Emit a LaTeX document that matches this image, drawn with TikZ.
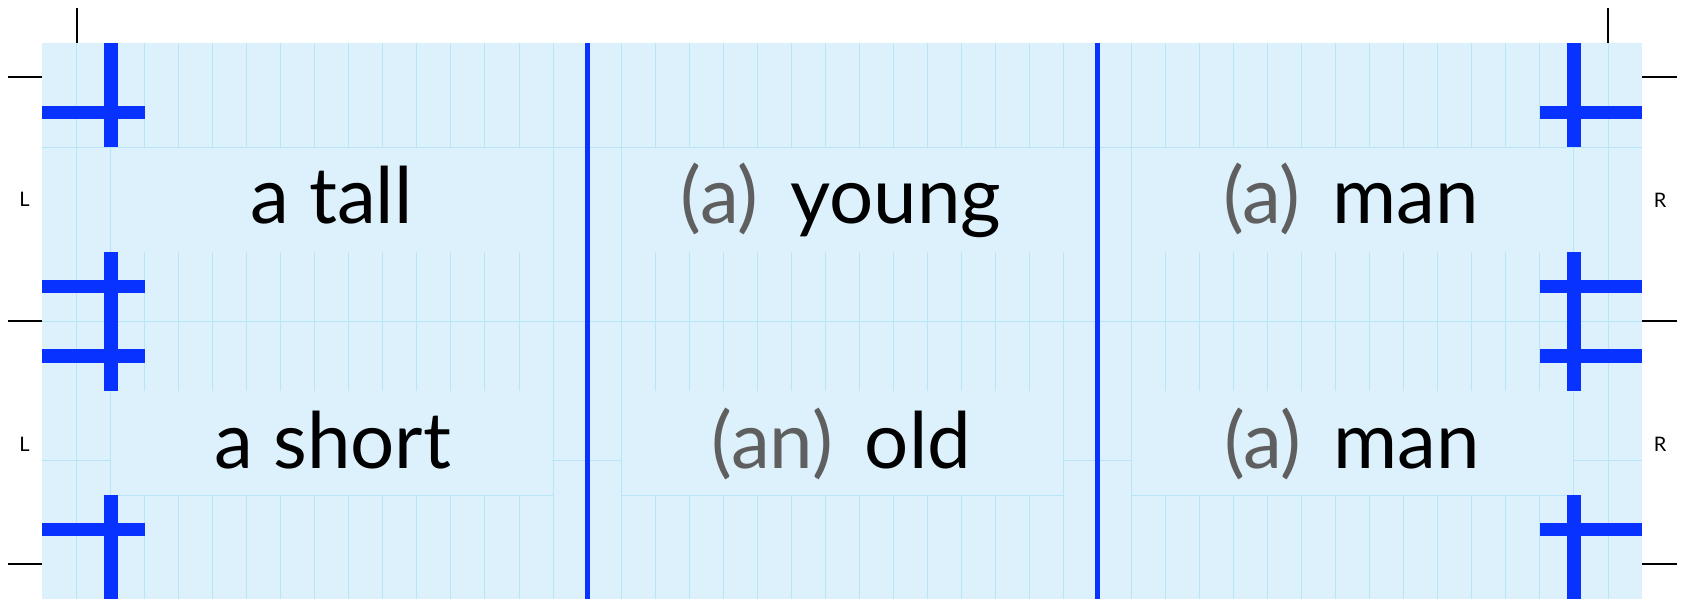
\documentclass[tikz,border=0pt]{standalone}
\usepackage{fontspec}
\setmainfont{Lato}
\definecolor{bgc}{RGB}{220,241,252}
\definecolor{gridc}{RGB}{184,229,248}
\definecolor{blu}{RGB}{8,50,255}
\definecolor{paren}{RGB}{95,95,95}
\begin{document}
\begin{tikzpicture}[x=1pt,y=-1pt,
  wordtxt/.style={font=\fontsize{78}{90}\selectfont, inner sep=0pt, anchor=base},
  sidelbl/.style={font=\fontsize{20}{24}\selectfont, inner sep=0pt},
  blacktick/.style={line width=2.3pt, black},
  gridln/.style={gridc, line width=1pt},
  bluebar/.style={fill=blu, draw=none},
  coldiv/.style={blu, line width=5pt},
  cellbox/.style={fill=bgc, draw=none}]
\useasboundingbox (0,0) rectangle (1686,599);
% background and grid
\fill[bgc] (42,43.3) rectangle (1642,599);
\foreach \k in {1,...,46} \draw[gridln] ({42.6+34.03*\k},43.3) -- ({42.6+34.03*\k},599);
\foreach \y in {147.3,321,460.3} \draw[gridln] (42,\y) -- (1642,\y);
% cells row 1
\fill[cellbox] (111.3,147.9) rectangle (552.4,251.7);
\fill[cellbox] (621.7,147.9) rectangle (1096,251.7);
\fill[cellbox] (1132.2,147.9) rectangle (1573.4,251.7);
% cells row 2
\fill[cellbox] (111.3,390.7) rectangle (552.4,494.8);
\fill[cellbox] (621.7,390.7) rectangle (1063,494.8);
\fill[cellbox] (1132.2,390.7) rectangle (1573.4,494.8);
\draw[gridln] (110.7,495.3) -- (553,495.3);
\draw[gridln] (621.1,495.3) -- (1063.6,495.3);
\draw[gridln] (1131.6,495.3) -- (1574,495.3);
% column dividers
\draw[coldiv] (587,43.3) -- (587,599);
\draw[coldiv] (1097.5,43.3) -- (1097.5,599);
% left crosses
\fill[bluebar] (103.8,43.3) rectangle (117.5,147.3);
\fill[bluebar] (42,106) rectangle (144.7,119.3);
\fill[bluebar] (103.8,251.7) rectangle (117.5,390.7);
\fill[bluebar] (42,280) rectangle (144.7,293.3);
\fill[bluebar] (42,349.3) rectangle (144.7,362.7);
\fill[bluebar] (103.8,495.3) rectangle (117.5,599);
\fill[bluebar] (42,523) rectangle (144.7,536.3);
% right crosses
\fill[bluebar] (1567.2,43.3) rectangle (1580.9,147.3);
\fill[bluebar] (1540,106) rectangle (1642,119.3);
\fill[bluebar] (1567.2,251.7) rectangle (1580.9,390.7);
\fill[bluebar] (1540,280) rectangle (1642,293.3);
\fill[bluebar] (1540,349.3) rectangle (1642,362.7);
\fill[bluebar] (1567.2,495.3) rectangle (1580.9,599);
\fill[bluebar] (1540,523) rectangle (1642,536.3);
% ticks
\draw[blacktick] (76.7,8.3) -- (76.7,43.3);
\draw[blacktick] (1608,8.3) -- (1608,43.3);
\foreach \y in {77,321,564} {
  \draw[blacktick] (7.7,\y) -- (42,\y);
  \draw[blacktick] (1642,\y) -- (1677,\y);
}
% side labels
\node[sidelbl] (l1) at (24.5,199) {L};
\node[sidelbl] (l2) at (24.5,444) {L};
\node[sidelbl] (r1) at (1660,200) {R};
\node[sidelbl] (r2) at (1660,444) {R};
% words
\node[wordtxt] (w11) at (331.5,223.3) {a tall};
\node[wordtxt] (w12) at (841,223.3) {{\color{paren}(a)}\hspace{32pt}young};
\node[wordtxt] (w13) at (1351,223.3) {{\color{paren}(a)}\hspace{32pt}man};
\node[wordtxt] (w21) at (332.8,468.3) {a short};
\node[wordtxt] (w22) at (841.4,468.3) {{\color{paren}(an)}\hspace{32pt}old};
\node[wordtxt] (w23) at (1352,468.3) {{\color{paren}(a)}\hspace{32pt}man};
\end{tikzpicture}
\end{document}
